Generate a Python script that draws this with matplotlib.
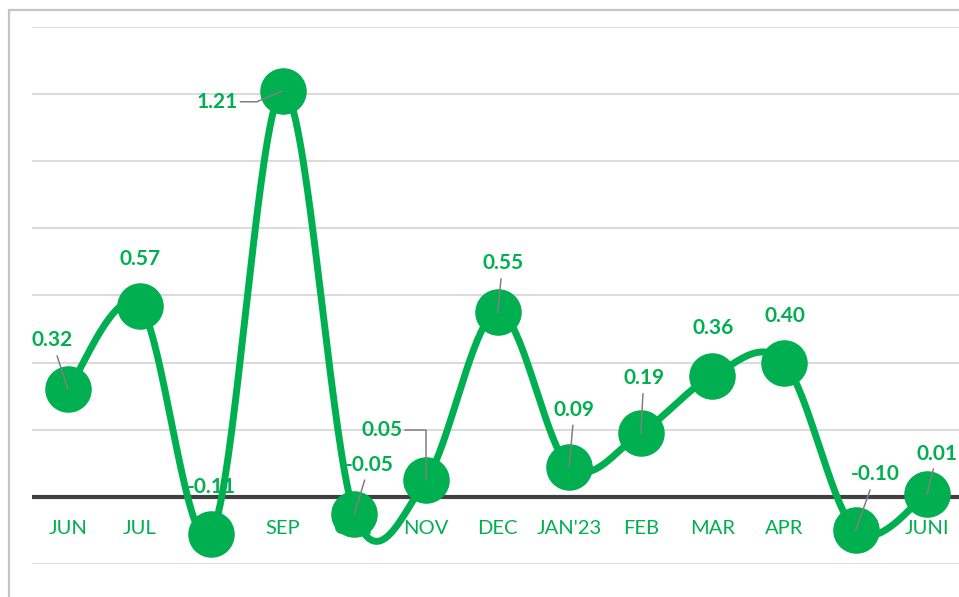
import numpy as np
import matplotlib
matplotlib.use("Agg")
import matplotlib.pyplot as plt
from matplotlib.patches import Rectangle

# datos del grafico
meses = ["JUN", "JUL", "AUG", "SEP", "OCT", "NOV", "DEC", "JAN'23",
         "FEB", "MAR", "APR", "MAY", "JUNI"]
valores = [0.32, 0.57, -0.11, 1.21, -0.05, 0.05, 0.55, 0.09,
           0.19, 0.36, 0.40, -0.10, 0.01]

# posicion de cada etiqueta (pixeles respecto al punto) y si lleva linea guia
desplaz = [(-16, 49), (0, 47), (0, 47), (-66, -11), (15, 49), (-44, 50),
           (5, 49), (5, 57), (3, 55), (1, 48), (1, 47), (20, 56), (10, 40)]
guia = [True, False, False, "codo", True, "codo2", True, True, True,
        False, False, True, True]

verde = "#00B050"
plt.rcParams["font.family"] = ["Lato", "DejaVu Sans"]

fig = plt.figure(figsize=(9.59, 5.97), dpi=100)
ax = fig.add_axes([0.0336, 0.0553, 0.9706, 0.8995])
ax.set_xlim(-0.5, len(meses) - 0.5)
ax.set_ylim(-0.2, 1.4)
ax.axis("off")

# marco exterior del grafico
fig.patches.append(Rectangle((0.0089, -0.2), 1.2, 0.9832 + 0.2,
                             transform=fig.transFigure, fill=False,
                             edgecolor="#c4c4c4", lw=1.6))

# lineas de cuadricula
for yv in np.arange(-0.2, 1.41, 0.2):
    if abs(yv) < 1e-9:
        continue
    ax.axhline(yv, color="#d4d4d4", lw=1.2, zorder=0)
ax.axhline(0, color="#404040", lw=3, zorder=1)

# etiquetas de categoria justo bajo la linea de cero
for i, m in enumerate(meses):
    ax.text(i, -0.093, m, ha="center", va="center", color=verde,
            fontsize=14.5, zorder=1)

# linea suavizada (bezier tipo Catmull-Rom, como Excel)
x = np.arange(len(valores), dtype=float)
y = np.array(valores)
xp = np.concatenate([[x[0]], x, [x[-1]]])
yp = np.concatenate([[y[0]], y, [y[-1]]])
t = np.linspace(0, 1, 40)[:, None]
sx, sy = [], []
for i in range(len(x) - 1):
    p0 = np.array([xp[i + 1], yp[i + 1]])
    p3 = np.array([xp[i + 2], yp[i + 2]])
    c1 = p0 + (p3 - np.array([xp[i], yp[i]])) / 6
    c2 = p3 - (np.array([xp[i + 3], yp[i + 3]]) - p0) / 6
    b = ((1 - t) ** 3) * p0 + 3 * ((1 - t) ** 2) * t * c1 + 3 * (1 - t) * t ** 2 * c2 + t ** 3 * p3
    sx.extend(b[:, 0])
    sy.extend(b[:, 1])
ax.plot(sx, sy, color=verde, lw=5, solid_capstyle="round", zorder=3)
ax.plot(x, y, "o", color=verde, markersize=32.5, zorder=4)

# etiquetas de datos
for i, v in enumerate(valores):
    props = None
    if guia[i] is True:
        props = dict(arrowstyle="-", color="#808080", lw=1.1, shrinkA=2, shrinkB=0)
    elif guia[i] == "codo":
        props = dict(arrowstyle="-", color="#808080", lw=1.1, shrinkA=0, shrinkB=0,
                     relpos=(1, 0.5), connectionstyle="angle,angleA=0,angleB=23,rad=0")
    elif guia[i] == "codo2":
        props = dict(arrowstyle="-", color="#808080", lw=1.1, shrinkA=0, shrinkB=0,
                     relpos=(1, 0.5), connectionstyle="angle,angleA=0,angleB=90,rad=0")
    ax.annotate(f"{v:.2f}", xy=(i, v), xytext=desplaz[i], textcoords="offset pixels",
                ha="center", va="center", color=verde, fontsize=15,
                fontweight="bold", arrowprops=props, zorder=5,
                annotation_clip=False)

plt.savefig("out.png", dpi=100)
plt.close()
